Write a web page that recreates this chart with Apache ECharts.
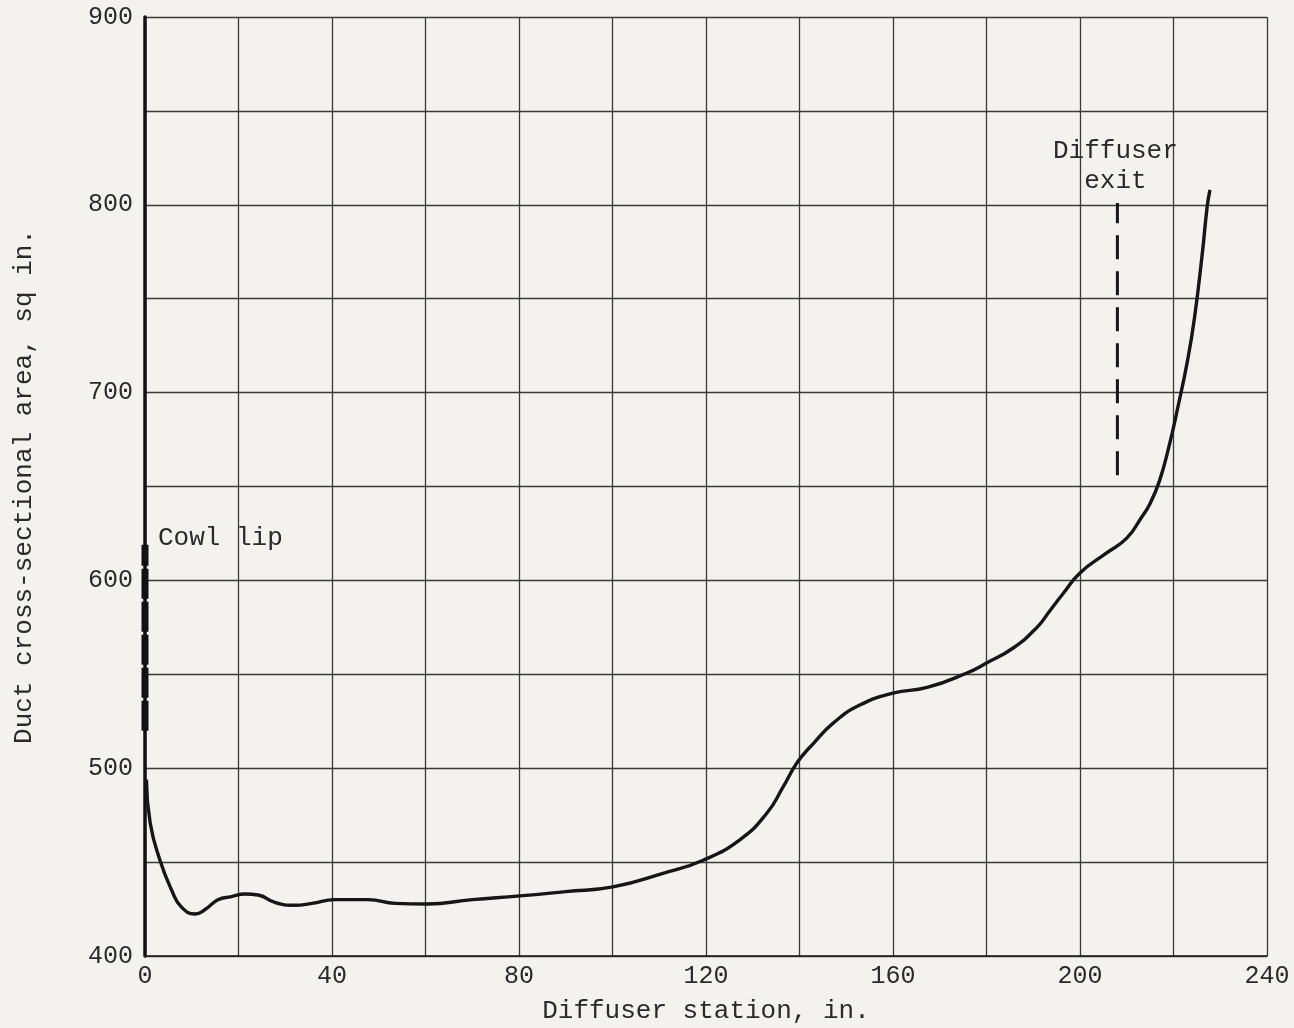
<!DOCTYPE html>
<html>
<head>
<meta charset="utf-8">
<script src="https://cdn.jsdelivr.net/npm/echarts@6/dist/echarts.min.js"></script>
<style>
  html, body { margin: 0; padding: 0; background: #f3f2ee; }
  #chart { width: 1294px; height: 1028px; }
</style>
</head>
<body>
<div id="chart"></div>
<script>
// Diffuser station (in.) along the duct
const stationIn = [0.3, 1.1, 3.2, 5.7, 7.8, 10.7, 13, 15.6, 18.5, 21.4, 24.2, 27.8, 32, 35.7, 40.6, 47.7, 53.5, 60.3, 70, 80.2, 90, 100.1, 110.8, 119.4, 127.3, 133, 136.5, 139.5, 142.9, 147.2, 152.9, 160, 167.3, 175.8, 180, 185.7, 190.8, 193.6, 196.4, 200, 205.7, 210, 213, 215, 217, 219, 221, 223, 224.5, 226.2, 227.2, 227.8];
// Duct cross-sectional area (sq in.) at each station
const areaSqIn = [494, 471, 451, 435, 426, 422.4, 425, 430, 431.6, 433, 432.5, 428.5, 427, 428, 430, 430, 428, 427.7, 430, 432, 434.3, 436.8, 444, 451, 462, 476, 490, 503, 513, 524, 533.6, 540, 543, 550.7, 556, 564, 575, 584, 593, 604, 614.6, 622.5, 633, 641, 653, 671, 693, 717, 740, 775, 799, 808];

// Reference markers
const cowlLipStation = 0;
const cowlLipRange = [520, 619];
const exitStation = 208;
const exitRange = [656, 801];

// Axis ticks
const xTicks = [0, 40, 80, 120, 160, 200, 240];
const yTicks = [400, 500, 600, 700, 800, 900];

const font = 'Liberation Mono, Courier New, monospace';
const ink = '#2a2a2a';
const gridInk = '#3a3a36';

const chart = echarts.init(document.getElementById('chart'), null, { renderer: 'canvas' });

chart.setOption({
  backgroundColor: '#f3f2ee',
  animation: false,
  grid: { left: 145, right: 27, top: 17, bottom: 72, containLabel: false, outerBoundsMode: 'none' },
  xAxis: {
    type: 'value',
    min: 0, max: 240, interval: 20,
    name: 'Diffuser station, in.',
    nameLocation: 'middle',
    nameGap: 42,
    nameTextStyle: { fontFamily: font, fontSize: 26, color: ink },
    axisLine: { show: true, onZero: false, lineStyle: { color: '#1c1c1a', width: 1.6 } },
    axisTick: { show: false },
    axisLabel: {
      margin: 8,
      fontFamily: font, fontSize: 25, color: ink,
      formatter: v => (xTicks.indexOf(v) >= 0 ? String(v) : '')
    },
    splitLine: { show: true, lineStyle: { color: gridInk, width: 1.3 } }
  },
  yAxis: {
    type: 'value',
    min: 400, max: 900, interval: 50,
    name: 'Duct cross-sectional area, sq in.',
    nameLocation: 'middle',
    nameGap: 108,
    nameRotate: 90,
    nameTextStyle: { fontFamily: font, fontSize: 26, color: ink },
    axisLine: { show: true, onZero: false, lineStyle: { color: '#111', width: 3.5 } },
    axisTick: { show: false },
    axisLabel: {
      margin: 12,
      fontFamily: font, fontSize: 25, color: ink,
      formatter: v => (yTicks.indexOf(v) >= 0 ? String(v) : '')
    },
    splitLine: { show: true, lineStyle: { color: gridInk, width: 1.3 } }
  },
  series: [
    {
      name: 'area',
      type: 'line',
      data: stationIn.map((x, i) => [x, areaSqIn[i]]),
      smooth: 0.5,
      showSymbol: false,
      clip: false,
      lineStyle: { color: '#161616', width: 3.4 },
      z: 5
    },
    {
      name: 'cowl lip',
      type: 'line',
      data: cowlLipRange.map(y => [cowlLipStation, y]),
      showSymbol: false,
      clip: false,
      lineStyle: { color: '#111', width: 7, type: [30, 3], cap: 'butt' },
      endLabel: {
        show: true,
        formatter: 'Cowl lip',
        fontFamily: font, fontSize: 26, color: ink,
        offset: [5, -7],
        align: 'left'
      },
      z: 6
    },
    {
      name: 'diffuser exit',
      type: 'line',
      data: exitRange.map(y => [exitStation, y]),
      showSymbol: false,
      clip: false,
      lineStyle: { color: '#161616', width: 3, type: [24, 12], cap: 'butt' },
      endLabel: {
        show: true,
        formatter: 'Diffuser\nexit',
        fontFamily: font, fontSize: 26, color: ink,
        lineHeight: 30,
        align: 'center',
        verticalAlign: 'bottom',
        offset: [-10, -7]
      },
      z: 6
    }
  ]
});
</script>
</body>
</html>
